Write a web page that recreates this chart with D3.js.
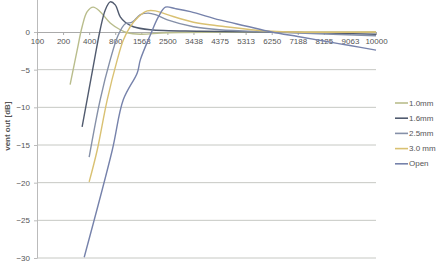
<!DOCTYPE html>
<html>
<head>
<meta charset="utf-8">
<script src="https://cdn.jsdelivr.net/npm/d3@7"></script>
<style>
  html, body { margin: 0; padding: 0; background: #fff; }
  svg text { font-family: "Liberation Sans", Arial, sans-serif; fill: #555; }
</style>
</head>
<body>
<div id="chart"></div>
<script>
// category ticks on the frequency axis (evenly spaced in the chart)
const freqTicks = [100, 200, 400, 800, 1563, 2500, 3438, 4375, 5313, 6250, 7188, 8125, 9063, 10000];
const dbTicks = [0, -5, -10, -15, -20, -25, -30];

// series: [frequency Hz, dB]
const series10 = [[254, -7.0], [308, -2.4], [346, 0.7], [385, 2.7], [462, 3.3], [569, 2.7], [723, 1.2],
  [947, 0.3], [1152, -0.1], [1534, -0.3], [2500, -0.1], [6250, 0], [10000, 0]];
const series16 = [[346, -12.6], [462, -4.6], [569, 0.3], [646, 2.9], [723, 4.0], [800, 3.6], [947, 2.0],
  [1093, 1.3], [1328, 0.7], [1887, 0.3], [3654, 0.1], [6250, 0], [10000, -0.3]];
const series25 = [[400, -16.6], [569, -9.0], [723, -3.7], [888, -0.4], [1093, 1.1], [1298, 1.3], [1534, 2.3],
  [1815, 2.5], [2068, 2.3], [2500, 1.6], [3438, 0.7], [4375, 0.3], [6250, 0], [10000, -0.5]];
const series30 = [[400, -19.9], [523, -15.7], [677, -9.0], [859, -3.7], [1035, -1.1], [1240, 0.7], [1475, 2.0],
  [1779, 2.8], [2068, 2.8], [2500, 2.3], [3438, 1.3], [4375, 0.8], [6250, 0.1], [10000, 0]];
const seriesOpen = [[362, -29.9], [754, -15.7], [1035, -9.0], [1446, -5.4], [1534, -3.7], [1887, -0.4],
  [2176, 2.0], [2428, 3.3], [2788, 3.1], [3329, 2.7], [4375, 1.6], [5313, 0.8], [6250, 0], [7188, -0.6],
  [8125, -1.2], [9063, -1.8], [10000, -2.4]];

const seriesNames = ["1.0mm", "1.6mm", "2.5mm", "3.0 mm", "Open"];
const seriesColors = ["#b9bd8c", "#515b6f", "#8590a8", "#d9c172", "#7682ab"];
const allSeries = [series10, series16, series25, series30, seriesOpen];

const width = 440, height = 264;
const left = 37, right = 376;

const svg = d3.select("#chart").append("svg")
    .attr("width", width)
    .attr("height", height);

// x: category positions, linear between neighbouring ticks
const step = (right - left) / (freqTicks.length - 1);
const x = d3.scaleLinear()
    .domain(freqTicks)
    .range(freqTicks.map((d, i) => left + i * step));

const y = d3.scaleLinear()
    .domain([-30, 5])
    .range([258, 32 - (258 - 32) / 6]);

// gridlines
svg.append("g")
    .selectAll("line")
    .data(dbTicks.filter(d => d !== 0))
    .join("line")
    .attr("x1", left).attr("x2", right)
    .attr("y1", d => y(d)).attr("y2", d => y(d))
    .attr("stroke", "#c6c8c3")
    .attr("stroke-width", 1);

// y axis
const yAxis = svg.append("g")
    .attr("transform", `translate(${left},0)`)
    .call(d3.axisLeft(y).tickValues(dbTicks).tickSize(3).tickPadding(4).tickSizeOuter(0));
yAxis.select(".domain").attr("stroke", "#bbb");
yAxis.selectAll(".tick line").attr("stroke", "#bbb");
yAxis.selectAll("text").style("font-size", "8px").attr("fill", "#4a4a4a");

// x axis along 0 dB
const xAxis = svg.append("g")
    .attr("transform", `translate(0,${y(0)})`)
    .call(d3.axisBottom(x).tickValues(freqTicks).tickFormat(d3.format("d")).tickSize(3).tickPadding(3).tickSizeOuter(0));
xAxis.select(".domain").attr("stroke", "#aaa");
xAxis.selectAll(".tick line").attr("stroke", "#aaa");
xAxis.selectAll("text").style("font-size", "8px").attr("fill", "#4a4a4a");

// lines (smoothed, like the spreadsheet's smooth lines)
const line = d3.line()
    .x(d => x(d[0]))
    .y(d => y(d[1]))
    .curve(d3.curveCatmullRom.alpha(0.5));

svg.append("g")
    .selectAll("path")
    .data(allSeries)
    .join("path")
    .attr("d", line)
    .attr("fill", "none")
    .attr("stroke", (d, i) => seriesColors[i])
    .attr("stroke-width", 1.4);

// axis titles
svg.append("text")
    .attr("transform", `translate(10,${(y(5) + y(-30)) / 2}) rotate(-90)`)
    .attr("text-anchor", "middle")
    .style("font-size", "8px")
    .style("font-weight", "bold")
    .text("vent out [dB]");

svg.append("text")
    .attr("x", (left + right) / 2)
    .attr("y", 270)
    .attr("text-anchor", "middle")
    .style("font-size", "8px")
    .style("font-weight", "bold")
    .text("frequency [Hz]");

// legend
const legend = svg.append("g")
    .selectAll("g")
    .data(seriesNames)
    .join("g")
    .attr("transform", (d, i) => `translate(395,${103 + i * 15.2})`);

legend.append("line")
    .attr("x1", 0).attr("x2", 13)
    .attr("stroke", (d, i) => seriesColors[i])
    .attr("stroke-width", 1.6);

legend.append("text")
    .attr("x", 14)
    .attr("dy", "0.33em")
    .style("font-size", "8px")
    .text(d => d);
</script>
</body>
</html>
